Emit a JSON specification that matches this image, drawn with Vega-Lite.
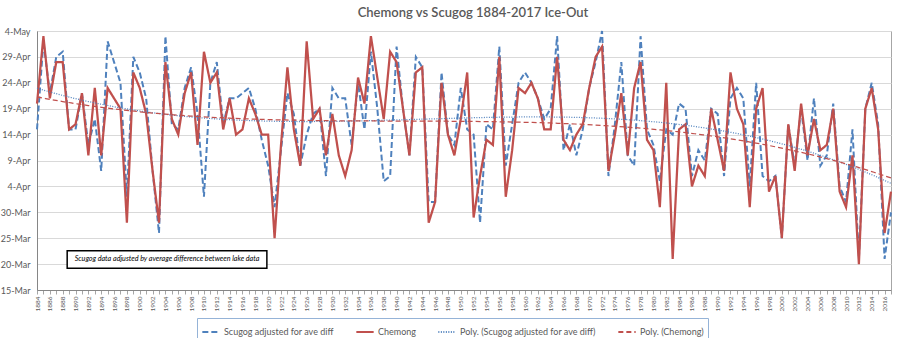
{
  "$schema": "https://vega.github.io/schema/vega-lite/v6.json",
  "width": 854,
  "height": 259,
  "autosize": {"type": "none"},
  "padding": {"left": 37, "top": 31, "right": 8, "bottom": 48},
  "background": "white",
  "config": {
    "font": "Lato",
    "view": {"stroke": "#a6a6a6"},
    "axisX": {"format": "d", "labelExpr": "datum.value % 2 === 0 ? datum.label : ''", "labelAngle": -90, "labelFontSize": 6.5, "labelColor": "#595959", "labelOverlap": false, "labelBound": false, "labelFlush": false, "labelPadding": 2, "tickColor": "#a6a6a6", "tickSize": 4, "domainColor": "#868686", "grid": false, "title": null},
    "axisY": {"labelExpr": "timeFormat(datetime(2001, 0, datum.value), '%-d-%b')", "labelOverlap": false, "grid": true, "gridColor": "#d9d9d9", "domainColor": "#868686", "ticks": false, "labelFontSize": 9, "labelColor": "#595959", "labelPadding": 7, "title": null}
  },
  "title": {"text": "Chemong vs Scugog 1884-2017  Ice-Out", "fontSize": 13, "fontWeight": 600, "color": "#595959", "anchor": "middle", "frame": "group", "dx": 9, "offset": 7},
  "datasets": {
    "ice": [
    {"year":1884,"Scugog":105,"Chemong":110},{"year":1885,"Scugog":122,"Chemong":123},{"year":1886,"Scugog":112,"Chemong":111},{"year":1887,"Scugog":119,"Chemong":118},{"year":1888,"Scugog":120,"Chemong":118},{"year":1889,"Scugog":105,"Chemong":105},{"year":1890,"Scugog":105,"Chemong":106},{"year":1891,"Scugog":112,"Chemong":112},{"year":1892,"Scugog":102,"Chemong":100},{"year":1893,"Scugog":107,"Chemong":113},
    {"year":1894,"Scugog":97,"Chemong":100},{"year":1895,"Scugog":122,"Chemong":113},{"year":1896,"Scugog":118,"Chemong":111},{"year":1897,"Scugog":114,"Chemong":109},{"year":1898,"Scugog":92,"Chemong":87},{"year":1899,"Scugog":119,"Chemong":116},{"year":1900,"Scugog":116,"Chemong":113},{"year":1901,"Scugog":111,"Chemong":108},{"year":1902,"Scugog":97,"Chemong":97},{"year":1903,"Scugog":85,"Chemong":87},
    {"year":1904,"Scugog":123,"Chemong":118},{"year":1905,"Scugog":106,"Chemong":107},{"year":1906,"Scugog":105,"Chemong":104},{"year":1907,"Scugog":113,"Chemong":112},{"year":1908,"Scugog":117,"Chemong":116},{"year":1909,"Scugog":108,"Chemong":102},{"year":1910,"Scugog":92,"Chemong":120},{"year":1911,"Scugog":114,"Chemong":114},{"year":1912,"Scugog":118,"Chemong":116},{"year":1913,"Scugog":106,"Chemong":105},
    {"year":1914,"Scugog":111,"Chemong":111},{"year":1915,"Scugog":111,"Chemong":104},{"year":1916,"Scugog":112,"Chemong":105},{"year":1917,"Scugog":113,"Chemong":111},{"year":1918,"Scugog":109,"Chemong":108},{"year":1919,"Scugog":103,"Chemong":104},{"year":1920,"Scugog":98,"Chemong":104},{"year":1921,"Scugog":90,"Chemong":84},{"year":1922,"Scugog":101,"Chemong":102},{"year":1923,"Scugog":112,"Chemong":117},
    {"year":1924,"Scugog":108,"Chemong":105},{"year":1925,"Scugog":98,"Chemong":98},{"year":1926,"Scugog":104,"Chemong":122},{"year":1927,"Scugog":108,"Chemong":107},{"year":1928,"Scugog":109,"Chemong":109},{"year":1929,"Scugog":96,"Chemong":100},{"year":1930,"Scugog":113,"Chemong":108},{"year":1931,"Scugog":111,"Chemong":100},{"year":1932,"Scugog":111,"Chemong":96},{"year":1933,"Scugog":102,"Chemong":101},
    {"year":1934,"Scugog":114,"Chemong":115},{"year":1935,"Scugog":105,"Chemong":110},{"year":1936,"Scugog":120,"Chemong":123},{"year":1937,"Scugog":109,"Chemong":115},{"year":1938,"Scugog":95,"Chemong":107},{"year":1939,"Scugog":96,"Chemong":120},{"year":1940,"Scugog":121,"Chemong":118},{"year":1941,"Scugog":109,"Chemong":109},{"year":1942,"Scugog":100,"Chemong":100},{"year":1943,"Scugog":119,"Chemong":116},
    {"year":1944,"Scugog":117,"Chemong":117},{"year":1945,"Scugog":91,"Chemong":87},{"year":1946,"Scugog":91,"Chemong":91},{"year":1947,"Scugog":116,"Chemong":114},{"year":1948,"Scugog":104,"Chemong":104},{"year":1949,"Scugog":102,"Chemong":100},{"year":1950,"Scugog":113,"Chemong":107},{"year":1951,"Scugog":105,"Chemong":116},{"year":1952,"Scugog":104,"Chemong":88},{"year":1953,"Scugog":87,"Chemong":96},
    {"year":1954,"Scugog":106,"Chemong":103},{"year":1955,"Scugog":105,"Chemong":102},{"year":1956,"Scugog":121,"Chemong":119},{"year":1957,"Scugog":98,"Chemong":92},{"year":1958,"Scugog":106,"Chemong":101},{"year":1959,"Scugog":114,"Chemong":113},{"year":1960,"Scugog":116,"Chemong":112},{"year":1961,"Scugog":114,"Chemong":114},{"year":1962,"Scugog":111,"Chemong":111},{"year":1963,"Scugog":107,"Chemong":105},
    {"year":1964,"Scugog":109,"Chemong":105},{"year":1965,"Scugog":123,"Chemong":119},{"year":1966,"Scugog":101,"Chemong":103},{"year":1967,"Scugog":106,"Chemong":101},{"year":1968,"Scugog":100,"Chemong":104},{"year":1969,"Scugog":105,"Chemong":106},{"year":1970,"Scugog":113,"Chemong":113},{"year":1971,"Scugog":118,"Chemong":119},{"year":1972,"Scugog":124,"Chemong":121},{"year":1973,"Scugog":96,"Chemong":97},
    {"year":1974,"Scugog":106,"Chemong":104},{"year":1975,"Scugog":118,"Chemong":112},{"year":1976,"Scugog":100,"Chemong":100},{"year":1977,"Scugog":98,"Chemong":113},{"year":1978,"Scugog":123,"Chemong":118},{"year":1979,"Scugog":105,"Chemong":103},{"year":1980,"Scugog":102,"Chemong":101},{"year":1981,"Scugog":95,"Chemong":90},{"year":1982,"Scugog":105,"Chemong":114},{"year":1983,"Scugog":104,"Chemong":80},
    {"year":1984,"Scugog":110,"Chemong":105},{"year":1985,"Scugog":109,"Chemong":106},{"year":1986,"Scugog":96,"Chemong":94},{"year":1987,"Scugog":101,"Chemong":98},{"year":1988,"Scugog":99,"Chemong":96},{"year":1989,"Scugog":109,"Chemong":109},{"year":1990,"Scugog":108,"Chemong":103},{"year":1991,"Scugog":96,"Chemong":97},{"year":1992,"Scugog":111,"Chemong":116},{"year":1993,"Scugog":113,"Chemong":109},
    {"year":1994,"Scugog":111,"Chemong":106},{"year":1995,"Scugog":94,"Chemong":90},{"year":1996,"Scugog":114,"Chemong":109},{"year":1997,"Scugog":96,"Chemong":113},{"year":1998,"Scugog":95,"Chemong":93},{"year":1999,"Scugog":96,"Chemong":96},{"year":2000,"Scugog":84,"Chemong":84},{"year":2001,"Scugog":106,"Chemong":106},{"year":2002,"Scugog":98,"Chemong":97},{"year":2003,"Scugog":109,"Chemong":110},
    {"year":2004,"Scugog":99,"Chemong":100},{"year":2005,"Scugog":111,"Chemong":107},{"year":2006,"Scugog":98,"Chemong":101},{"year":2007,"Scugog":100,"Chemong":102},{"year":2008,"Scugog":110,"Chemong":109},{"year":2009,"Scugog":94,"Chemong":93},{"year":2010,"Scugog":91,"Chemong":90},{"year":2011,"Scugog":105,"Chemong":100},{"year":2012,"Scugog":80,"Chemong":79},{"year":2013,"Scugog":109,"Chemong":109},
    {"year":2014,"Scugog":114,"Chemong":113},{"year":2015,"Scugog":106,"Chemong":105},{"year":2016,"Scugog":80,"Chemong":85},{"year":2017,"Scugog":89,"Chemong":93}
    ],
    "note": [{"note": "Scugog data adjusted by average difference between lake data"}]
  },
  "layer": [
    {
      "data": {"name": "ice"},
      "mark": {"type": "line", "strokeWidth": 2},
      "encoding": {
        "x": {"field": "year", "type": "quantitative", "scale": {"domain": [1884, 2017], "nice": false, "zero": false}, "axis": {"values": [1884,1885,1886,1887,1888,1889,1890,1891,1892,1893,1894,1895,1896,1897,1898,1899,1900,1901,1902,1903,1904,1905,1906,1907,1908,1909,1910,1911,1912,1913,1914,1915,1916,1917,1918,1919,1920,1921,1922,1923,1924,1925,1926,1927,1928,1929,1930,1931,1932,1933,1934,1935,1936,1937,1938,1939,1940,1941,1942,1943,1944,1945,1946,1947,1948,1949,1950,1951,1952,1953,1954,1955,1956,1957,1958,1959,1960,1961,1962,1963,1964,1965,1966,1967,1968,1969,1970,1971,1972,1973,1974,1975,1976,1977,1978,1979,1980,1981,1982,1983,1984,1985,1986,1987,1988,1989,1990,1991,1992,1993,1994,1995,1996,1997,1998,1999,2000,2001,2002,2003,2004,2005,2006,2007,2008,2009,2010,2011,2012,2013,2014,2015,2016,2017]}},
        "y": {"field": "Scugog", "type": "quantitative", "scale": {"domain": [74, 124], "nice": false, "zero": false}, "axis": {"values": [74,79,84,89,94,99,104,109,114,119,124]}},
        "color": {"datum": "Scugog adjusted for ave diff", "type": "nominal",
          "scale": {"domain": ["Scugog adjusted for ave diff", "Chemong", "Poly. (Scugog adjusted for ave diff)", "Poly. (Chemong)"], "range": ["#4f81bd", "#c0504d", "#4f81bd", "#c0504d"]},
          "legend": {"title": null, "orient": "none", "legendX": 160, "legendY": 287, "direction": "horizontal", "symbolType": "stroke", "symbolSize": 300, "symbolStrokeWidth": 2, "labelFontSize": 9, "labelColor": "#595959", "columnPadding": 18, "labelOffset": 3, "strokeColor": "#95b3d7", "fillColor": "white", "padding": 4, "labelLimit": 400}},
        "strokeDash": {"datum": "Scugog adjusted for ave diff", "type": "nominal",
          "scale": {"domain": ["Scugog adjusted for ave diff", "Chemong", "Poly. (Scugog adjusted for ave diff)", "Poly. (Chemong)"], "range": [[6, 3], [1, 0], [1, 1.5], [5, 3]]},
          "legend": {"title": null, "orient": "none", "legendX": 160, "legendY": 287, "direction": "horizontal", "symbolType": "stroke", "symbolSize": 300, "symbolStrokeWidth": 2, "labelFontSize": 9, "labelColor": "#595959", "columnPadding": 18, "labelOffset": 3, "strokeColor": "#95b3d7", "fillColor": "white", "padding": 4, "labelLimit": 400}}
      }
    },
    {
      "data": {"name": "ice"},
      "mark": {"type": "line", "strokeWidth": 2.25},
      "encoding": {
        "x": {"field": "year", "type": "quantitative", "scale": {"domain": [1884, 2017], "nice": false, "zero": false}, "axis": {"values": [1884,1885,1886,1887,1888,1889,1890,1891,1892,1893,1894,1895,1896,1897,1898,1899,1900,1901,1902,1903,1904,1905,1906,1907,1908,1909,1910,1911,1912,1913,1914,1915,1916,1917,1918,1919,1920,1921,1922,1923,1924,1925,1926,1927,1928,1929,1930,1931,1932,1933,1934,1935,1936,1937,1938,1939,1940,1941,1942,1943,1944,1945,1946,1947,1948,1949,1950,1951,1952,1953,1954,1955,1956,1957,1958,1959,1960,1961,1962,1963,1964,1965,1966,1967,1968,1969,1970,1971,1972,1973,1974,1975,1976,1977,1978,1979,1980,1981,1982,1983,1984,1985,1986,1987,1988,1989,1990,1991,1992,1993,1994,1995,1996,1997,1998,1999,2000,2001,2002,2003,2004,2005,2006,2007,2008,2009,2010,2011,2012,2013,2014,2015,2016,2017]}},
        "y": {"field": "Chemong", "type": "quantitative", "scale": {"domain": [74, 124], "nice": false, "zero": false}, "axis": {"values": [74,79,84,89,94,99,104,109,114,119,124]}},
        "color": {"datum": "Chemong", "type": "nominal"},
        "strokeDash": {"datum": "Chemong", "type": "nominal"}
      }
    },
    {
      "data": {"name": "ice"},
      "transform": [{"regression": "Scugog", "on": "year", "method": "poly", "order": 3, "extent": [1884, 2017]}],
      "mark": {"type": "line", "strokeWidth": 1.25},
      "encoding": {
        "x": {"field": "year", "type": "quantitative", "scale": {"domain": [1884, 2017], "nice": false, "zero": false}, "axis": {"values": [1884,1885,1886,1887,1888,1889,1890,1891,1892,1893,1894,1895,1896,1897,1898,1899,1900,1901,1902,1903,1904,1905,1906,1907,1908,1909,1910,1911,1912,1913,1914,1915,1916,1917,1918,1919,1920,1921,1922,1923,1924,1925,1926,1927,1928,1929,1930,1931,1932,1933,1934,1935,1936,1937,1938,1939,1940,1941,1942,1943,1944,1945,1946,1947,1948,1949,1950,1951,1952,1953,1954,1955,1956,1957,1958,1959,1960,1961,1962,1963,1964,1965,1966,1967,1968,1969,1970,1971,1972,1973,1974,1975,1976,1977,1978,1979,1980,1981,1982,1983,1984,1985,1986,1987,1988,1989,1990,1991,1992,1993,1994,1995,1996,1997,1998,1999,2000,2001,2002,2003,2004,2005,2006,2007,2008,2009,2010,2011,2012,2013,2014,2015,2016,2017]}},
        "y": {"field": "Scugog", "type": "quantitative", "scale": {"domain": [74, 124], "nice": false, "zero": false}, "axis": {"values": [74,79,84,89,94,99,104,109,114,119,124]}},
        "color": {"datum": "Poly. (Scugog adjusted for ave diff)", "type": "nominal"},
        "strokeDash": {"datum": "Poly. (Scugog adjusted for ave diff)", "type": "nominal"}
      }
    },
    {
      "data": {"name": "ice"},
      "transform": [{"regression": "Chemong", "on": "year", "method": "poly", "order": 3, "extent": [1884, 2017]}],
      "mark": {"type": "line", "strokeWidth": 1.25},
      "encoding": {
        "x": {"field": "year", "type": "quantitative", "scale": {"domain": [1884, 2017], "nice": false, "zero": false}, "axis": {"values": [1884,1885,1886,1887,1888,1889,1890,1891,1892,1893,1894,1895,1896,1897,1898,1899,1900,1901,1902,1903,1904,1905,1906,1907,1908,1909,1910,1911,1912,1913,1914,1915,1916,1917,1918,1919,1920,1921,1922,1923,1924,1925,1926,1927,1928,1929,1930,1931,1932,1933,1934,1935,1936,1937,1938,1939,1940,1941,1942,1943,1944,1945,1946,1947,1948,1949,1950,1951,1952,1953,1954,1955,1956,1957,1958,1959,1960,1961,1962,1963,1964,1965,1966,1967,1968,1969,1970,1971,1972,1973,1974,1975,1976,1977,1978,1979,1980,1981,1982,1983,1984,1985,1986,1987,1988,1989,1990,1991,1992,1993,1994,1995,1996,1997,1998,1999,2000,2001,2002,2003,2004,2005,2006,2007,2008,2009,2010,2011,2012,2013,2014,2015,2016,2017]}},
        "y": {"field": "Chemong", "type": "quantitative", "scale": {"domain": [74, 124], "nice": false, "zero": false}, "axis": {"values": [74,79,84,89,94,99,104,109,114,119,124]}},
        "color": {"datum": "Poly. (Chemong)", "type": "nominal"},
        "strokeDash": {"datum": "Poly. (Chemong)", "type": "nominal"}
      }
    },
    {
      "data": {"name": "note"},
      "mark": {"type": "rect", "fill": "white", "stroke": "black", "strokeWidth": 1.5},
      "encoding": {
        "x": {"datum": 1888.7, "type": "quantitative", "axis": {"values": [1884,1885,1886,1887,1888,1889,1890,1891,1892,1893,1894,1895,1896,1897,1898,1899,1900,1901,1902,1903,1904,1905,1906,1907,1908,1909,1910,1911,1912,1913,1914,1915,1916,1917,1918,1919,1920,1921,1922,1923,1924,1925,1926,1927,1928,1929,1930,1931,1932,1933,1934,1935,1936,1937,1938,1939,1940,1941,1942,1943,1944,1945,1946,1947,1948,1949,1950,1951,1952,1953,1954,1955,1956,1957,1958,1959,1960,1961,1962,1963,1964,1965,1966,1967,1968,1969,1970,1971,1972,1973,1974,1975,1976,1977,1978,1979,1980,1981,1982,1983,1984,1985,1986,1987,1988,1989,1990,1991,1992,1993,1994,1995,1996,1997,1998,1999,2000,2001,2002,2003,2004,2005,2006,2007,2008,2009,2010,2011,2012,2013,2014,2015,2016,2017]}},
        "x2": {"datum": 1919.8},
        "y": {"datum": 81.6, "type": "quantitative", "axis": {"values": [74,79,84,89,94,99,104,109,114,119,124]}},
        "y2": {"datum": 78.2}
      }
    },
    {
      "data": {"name": "note"},
      "mark": {"type": "text", "fontStyle": "italic", "fontSize": 7.2, "color": "black"},
      "encoding": {
        "x": {"datum": 1904.25, "type": "quantitative", "axis": {"values": [1884,1885,1886,1887,1888,1889,1890,1891,1892,1893,1894,1895,1896,1897,1898,1899,1900,1901,1902,1903,1904,1905,1906,1907,1908,1909,1910,1911,1912,1913,1914,1915,1916,1917,1918,1919,1920,1921,1922,1923,1924,1925,1926,1927,1928,1929,1930,1931,1932,1933,1934,1935,1936,1937,1938,1939,1940,1941,1942,1943,1944,1945,1946,1947,1948,1949,1950,1951,1952,1953,1954,1955,1956,1957,1958,1959,1960,1961,1962,1963,1964,1965,1966,1967,1968,1969,1970,1971,1972,1973,1974,1975,1976,1977,1978,1979,1980,1981,1982,1983,1984,1985,1986,1987,1988,1989,1990,1991,1992,1993,1994,1995,1996,1997,1998,1999,2000,2001,2002,2003,2004,2005,2006,2007,2008,2009,2010,2011,2012,2013,2014,2015,2016,2017]}},
        "y": {"datum": 79.9, "type": "quantitative", "axis": {"values": [74,79,84,89,94,99,104,109,114,119,124]}},
        "text": {"field": "note"}
      }
    }
  ]
}
